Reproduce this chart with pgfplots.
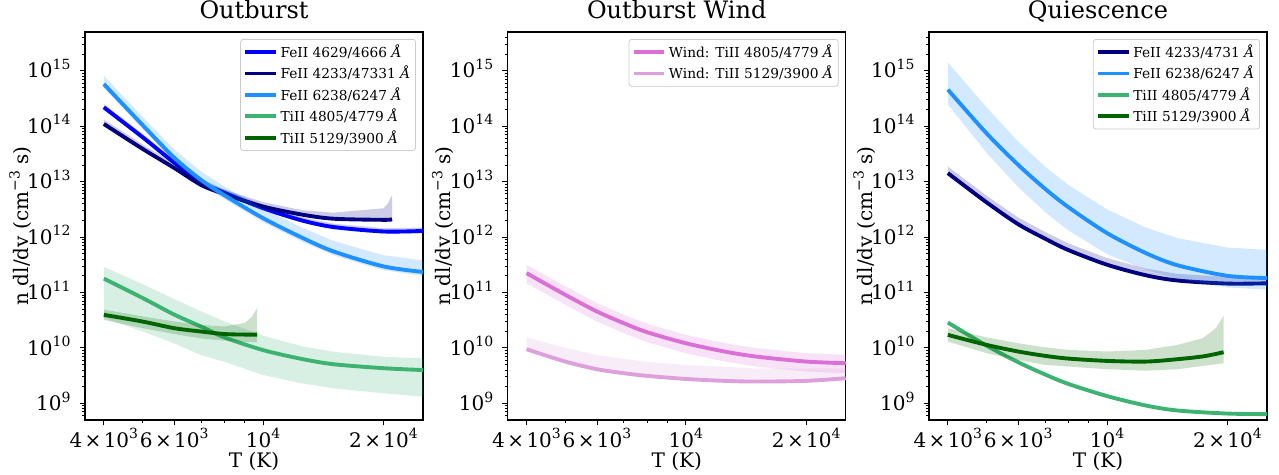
\documentclass[border=0pt]{standalone}
\usepackage{fontspec}
\setmainfont{DejaVu Serif}
\usepackage{pgfplots}
\pgfplotsset{compat=1.18}

\definecolor{cblue}{RGB}{0,0,255}
\definecolor{cnavy}{RGB}{0,0,128}
\definecolor{cdodger}{RGB}{30,144,255}
\definecolor{cmsg}{RGB}{60,179,113}
\definecolor{cdg}{RGB}{0,100,0}
\definecolor{corchid}{RGB}{218,112,214}
\definecolor{cplum}{RGB}{221,160,221}

\newcommand{\sups}[2][10.5]{\raisebox{0.42em}{\fontsize{#1}{#1}\selectfont #2}}
\newcommand{\tms}{\hspace{0.12em}×\hspace{0.12em}}
\newcommand{\ang}{\textit{Å}}

\pgfplotsset{
  myaxisstyle/.style={
    anchor=south west,
    width=253.5pt, height=291pt, scale only axis,
    xmin=3590, xmax=25100, ymin=5e8, ymax=5e15,
    axis line style={line width=0.8pt, black},
    tick align=outside, xtick pos=bottom, ytick pos=left,
    major tick length=4pt, minor tick length=2.3pt,
    tick style={black, line width=0.6pt},
    xtick={4000,6000,10000,20000},
    xticklabels={4\tms10\sups{3},6\tms10\sups{3},10\sups{4},2\tms10\sups{4}},
    minor xtick={5000,7000,8000,9000},
    ytick={1e9,1e10,1e11,1e12,1e13,1e14,1e15},
    yticklabels={10\sups{9},10\sups{10},10\sups{11},10\sups{12},10\sups{13},10\sups{14},10\sups{15}},
    minor ytick={6e8,7e8,8e8,9e8,2e9,3e9,4e9,5e9,6e9,7e9,8e9,9e9,2e10,3e10,4e10,5e10,6e10,7e10,8e10,9e10,2e11,3e11,4e11,5e11,6e11,7e11,8e11,9e11,2e12,3e12,4e12,5e12,6e12,7e12,8e12,9e12,2e13,3e13,4e13,5e13,6e13,7e13,8e13,9e13,2e14,3e14,4e14,5e14,6e14,7e14,8e14,9e14,2e15,3e15,4e15},
    tick label style={font=\fontsize{15}{17}\selectfont, inner sep=0pt},
    xticklabel style={anchor=base, yshift=-16.5pt},
    yticklabel style={anchor=base east, xshift=-6.75pt, yshift=-5.4pt},
    xlabel={T (K)}, ylabel={n dl/dv (cm\sups{−3} s)},
    label style={font=\fontsize{15}{17}\selectfont},
    xlabel style={at={(axis description cs:0.5,-0.1237)}, anchor=base},
    ylabel style={at={(axis description cs:-0.1686,0.5)}, anchor=base},
    title style={at={(axis description cs:0.5,1.0137)}, anchor=base, font=\fontsize{18}{20}\selectfont},
    legend style={at={(axis description cs:0.979,0.982)}, anchor=north east,
      draw=black!20, line width=0.6pt, rounded corners=2pt, fill=white, fill opacity=0.8, text opacity=1,
      font=\fontsize{10.3}{12}\selectfont, inner xsep=2pt, inner ysep=2pt, row sep=1pt},
    legend image post style={xscale=1.35},
    legend cell align=left,
  },
  mline/.style={#1, line width=2.9pt, smooth, no marks},
  mband/.style={fill=#1, fill opacity=0.2, draw=none, forget plot},
}

\begin{document}
\begin{tikzpicture}
\useasboundingbox (0,0) rectangle (959.25pt,356.25pt);

% ---------------- Outburst ----------------
\begin{loglogaxis}[myaxisstyle, at={(63.75pt,41.25pt)}, title={Outburst}]
\addplot[mband=cblue] coordinates {(4000,2.512e14) (5000,7.244e13) (6000,2.512e13) (7000,1.122e13) (8000,7.244e12) (10000,3.801e12) (12500,2.290e12) (15000,1.738e12) (20000,1.445e12) (25100,1.479e12)
 (25100,1.172e12) (20000,1.146e12) (15000,1.378e12) (12500,1.815e12) (10000,3.013e12) (8000,5.742e12) (7000,8.893e12) (6000,1.991e13) (5000,5.742e13) (4000,1.991e14)};
\addplot[mline=cblue] coordinates {(4000,2.188e14) (5000,6.310e13) (6000,2.188e13) (7000,9.772e12) (8000,6.310e12) (10000,3.311e12) (12500,1.995e12) (15000,1.514e12) (20000,1.259e12) (25100,1.288e12)};
\addlegendentry{FeII 4629/4666 \ang}

\addplot[mband=cnavy] coordinates {(4000,1.318e14) (5000,4.677e13) (6000,2.113e13) (7000,1.045e13) (8000,7.161e12) (10000,4.266e12) (12500,3.055e12) (15000,2.75e12) (20000,3.3e12) (20500,4.0e12) (21000,5.7e12)
 (21000,1.985e12) (20000,1.940e12) (15000,2.031e12) (12500,2.414e12) (10000,3.371e12) (8000,5.659e12) (7000,8.275e12) (6000,1.670e13) (5000,3.696e13) (4000,1.041e14)};
\addplot[mline=cnavy] coordinates {(4000,1.096e14) (5000,3.890e13) (6000,1.758e13) (7000,8.710e12) (8000,5.957e12) (10000,3.548e12) (12500,2.541e12) (15000,2.138e12) (20000,2.042e12) (21000,2.089e12)};
\addlegendentry{FeII 4233/47331 \ang}

\addplot[mband=cdodger] coordinates {(4000,8.11e14) (5000,1.476e14) (6000,3.80e13) (7000,1.52e13) (8000,8.2e12) (10000,3.2e12) (12500,1.48e12) (15000,8.5e11) (20000,4.7e11) (25100,3.8e11)
 (25100,1.99e11) (20000,2.51e11) (15000,4.67e11) (12500,8.3e11) (10000,1.86e12) (8000,4.84e12) (7000,9.1e12) (6000,2.29e13) (5000,8.9e13) (4000,4.89e14)};
\addplot[mline=cdodger] coordinates {(4000,5.754e14) (5000,1.047e14) (6000,2.692e13) (7000,1.072e13) (8000,5.689e12) (10000,2.188e12) (12500,9.772e11) (15000,5.495e11) (20000,2.951e11) (25100,2.344e11)};
\addlegendentry{FeII 6238/6247 \ang}

\addplot[mband=cmsg] coordinates {(4000,2.884e11) (5000,1.413e11) (6000,7.586e10) (7000,4.571e10) (8000,3.020e10) (10000,1.660e10) (12500,1.072e10) (15000,8.511e9) (20000,6.918e9) (25100,6.457e9)
 (25100,1.318e9) (20000,1.514e9) (15000,1.862e9) (12500,2.291e9) (10000,3.236e9) (8000,5.623e9) (7000,7.413e9) (6000,1.202e10) (5000,1.972e10) (4000,3.428e10)};
\addplot[mline=cmsg] coordinates {(4000,1.778e11) (5000,7.943e10) (6000,3.981e10) (7000,2.427e10) (8000,1.549e10) (10000,9.12e9) (12500,6.31e9) (15000,5.07e9) (20000,4.30e9) (25100,3.98e9)};
\addlegendentry{TiII 4805/4779 \ang}

\addplot[mband=cdg] coordinates {(4000,4.898e10) (5000,3.715e10) (6000,2.985e10) (7000,2.600e10) (8000,2.427e10) (9000,2.818e10) (9400,3.715e10) (9660,5.248e10)
 (9660,1.259e10) (9000,1.288e10) (8000,1.349e10) (7000,1.479e10) (6000,1.778e10) (5000,2.265e10) (4000,3.199e10)};
\addplot[mline=cdg] coordinates {(4000,3.945e10) (5000,2.985e10) (6000,2.265e10) (7000,1.972e10) (8000,1.778e10) (9000,1.738e10) (9660,1.738e10)};
\addlegendentry{TiII 5129/3900 \ang}
\end{loglogaxis}

% ---------------- Outburst Wind ----------------
\begin{loglogaxis}[myaxisstyle, at={(380.8pt,41.25pt)}, title={Outburst Wind}]
\addplot[mband=corchid] coordinates {(4000,3.16e11) (5000,1.286e11) (6000,6.43e10) (7000,3.96e10) (8000,2.72e10) (10000,1.72e10) (12500,1.22e10) (15000,9.89e9) (20000,8.04e9) (25100,7.50e9)
 (25100,3.49e9) (20000,3.74e9) (15000,4.60e9) (12500,5.67e9) (10000,8.0e9) (8000,1.27e10) (7000,1.84e10) (6000,2.99e10) (5000,5.98e10) (4000,1.47e11)};
\addplot[mline=corchid] coordinates {(4000,2.228e11) (5000,9.057e10) (6000,4.529e10) (7000,2.786e10) (8000,1.919e10) (10000,1.213e10) (12500,8.59e9) (15000,6.966e9) (20000,5.662e9) (25100,5.284e9)};
\addlegendentry{Wind: TiII 4805/4779 \ang}

\addplot[mband=cplum] coordinates {(4000,1.549e10) (5000,1.0e10) (6000,7.41e9) (7000,6.31e9) (8000,5.62e9) (10000,4.90e9) (12500,4.57e9) (15000,4.27e9) (20000,4.27e9) (25100,4.27e9)
 (25100,2.64e9) (20000,2.36e9) (15000,2.30e9) (12500,2.36e9) (10000,2.56e9) (8000,2.91e9) (7000,3.25e9) (6000,3.83e9) (5000,5.26e9) (4000,8.80e9)};
\addplot[mline=cplum] coordinates {(4000,9.46e9) (5000,5.66e9) (6000,4.12e9) (7000,3.49e9) (8000,3.13e9) (10000,2.75e9) (12500,2.54e9) (15000,2.47e9) (20000,2.54e9) (25100,2.84e9)};
\addlegendentry{Wind: TiII 5129/3900 \ang}
\end{loglogaxis}

% ---------------- Quiescence ----------------
\begin{loglogaxis}[myaxisstyle, at={(696.75pt,41.25pt)}, title={Quiescence}]
\addplot[mband=cnavy] coordinates {(4000,1.877e13) (5000,5.566e12) (6000,2.241e12) (7000,1.232e12) (8000,7.684e11) (10000,4.174e11) (12500,2.695e11) (15000,2.166e11) (20000,1.907e11) (25100,1.930e11)
 (25100,1.389e11) (20000,1.373e11) (15000,1.559e11) (12500,1.940e11) (10000,3.004e11) (8000,5.530e11) (7000,8.866e11) (6000,1.613e12) (5000,4.006e12) (4000,1.351e13)};
\addplot[mline=cnavy] coordinates {(4000,1.422e13) (5000,4.217e12) (6000,1.698e12) (7000,9.333e11) (8000,5.821e11) (10000,3.162e11) (12500,2.042e11) (15000,1.641e11) (20000,1.445e11) (25100,1.462e11)};
\addlegendentry{FeII 4233/4731 \ang}

\addplot[mband=cdodger] coordinates {(4000,1.413e15) (5000,2.188e14) (6000,5.248e13) (7000,1.862e13) (8000,8.710e12) (10000,3.162e12) (12500,1.479e12) (15000,9.550e11) (20000,6.457e11) (25100,5.888e11)
 (25100,1.122e11) (20000,1.230e11) (15000,1.778e11) (12500,2.570e11) (10000,4.898e11) (8000,1.318e12) (7000,2.818e12) (6000,7.943e12) (5000,3.311e13) (4000,2.455e14)};
\addplot[mline=cdodger] coordinates {(4000,4.571e14) (5000,7.413e13) (6000,1.995e13) (7000,7.413e12) (8000,3.467e12) (10000,1.175e12) (12500,5.129e11) (15000,3.090e11) (20000,1.995e11) (25100,1.820e11)};
\addlegendentry{FeII 6238/6247 \ang}

\addplot[mline=cmsg] coordinates {(4000,2.864e10) (5000,1.096e10) (6000,5.495e9) (7000,3.311e9) (8000,2.239e9) (10000,1.349e9) (12500,9.120e8) (15000,7.413e8) (20000,6.531e8) (25100,6.383e8)};
\addlegendentry{TiII 4805/4779 \ang}

\addplot[mband=cdg] coordinates {(4000,2.265e10) (5000,1.549e10) (6000,1.213e10) (7000,1.023e10) (8000,9.204e9) (10000,8.590e9) (12500,9.204e9) (15000,1.132e10) (17340,1.496e10) (18700,2.265e10) (19550,3.784e10)
 (19550,5.284e9) (15000,4.121e9) (12500,3.890e9) (10000,4.121e9) (8000,4.603e9) (7000,4.932e9) (6000,6.026e9) (5000,8.017e9) (4000,1.300e10)};
\addplot[mline=cdg] coordinates {(4000,1.718e10) (5000,1.132e10) (6000,8.590e9) (7000,7.178e9) (8000,6.412e9) (10000,5.821e9) (12500,5.662e9) (15000,6.252e9) (17500,7.08e9) (19550,8.356e9)};
\addlegendentry{TiII 5129/3900 \ang}
\end{loglogaxis}
\end{tikzpicture}
\end{document}
